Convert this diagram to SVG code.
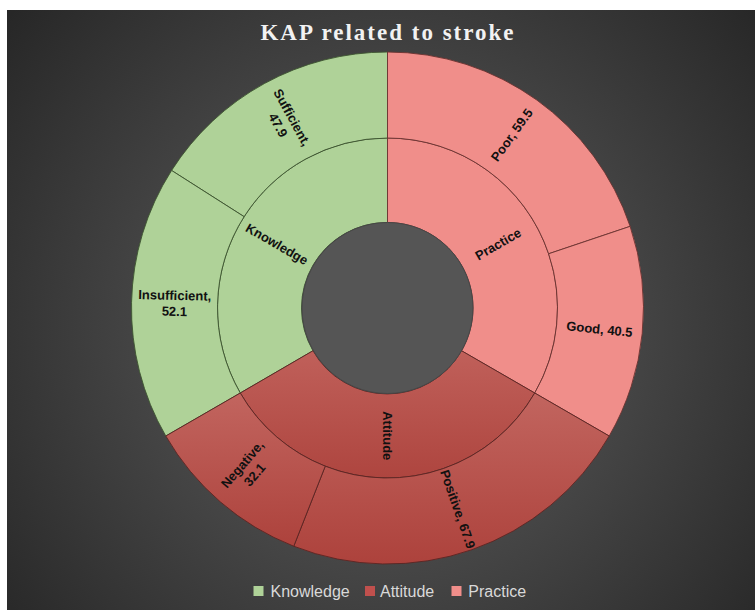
<svg xmlns="http://www.w3.org/2000/svg" width="755" height="610" viewBox="0 0 755 610">
  <defs>
    <radialGradient id="bg" gradientUnits="userSpaceOnUse" cx="387" cy="330" r="500">
      <stop offset="0" stop-color="#5a5a5a"/>
      <stop offset="0.45" stop-color="#474747"/>
      <stop offset="1" stop-color="#262626"/>
    </radialGradient>
    <linearGradient id="att" x1="0" y1="0" x2="0" y2="1">
      <stop offset="0" stop-color="#c2655f"/>
      <stop offset="1" stop-color="#ad423c"/>
    </linearGradient>
    <linearGradient id="attIn" x1="0" y1="0" x2="0" y2="1">
      <stop offset="0" stop-color="#c0605a"/>
      <stop offset="1" stop-color="#ae453f"/>
    </linearGradient>
  </defs>
  <style>
    .k { fill: #afd298; stroke: #3d5530; stroke-width: 0.9; }
    .p { fill: #f08e8a; stroke: #6a3230; stroke-width: 0.9; }
    .a { fill: url(#att); stroke: #5a2522; stroke-width: 0.9; }
    .ai { fill: url(#attIn); stroke: #5a2522; stroke-width: 0.9; }
    .lbl { font-family: "Liberation Sans", Arial, sans-serif; font-weight: bold; font-size: 13px; fill: #111; text-anchor: middle; }
    .leg { font-family: "Liberation Sans", Arial, sans-serif; font-size: 16px; fill: #d9d9d9; }
    .title { font-family: "Liberation Serif", "Times New Roman", serif; font-weight: bold; font-size: 23px; letter-spacing: 2px; fill: #f2f2f2; text-anchor: middle; }
  </style>
  <rect x="0" y="0" width="755" height="610" fill="#ffffff"/>
  <rect x="7" y="10" width="748" height="600" fill="url(#bg)"/>
  <text class="title" x="388" y="40">KAP related to stroke</text>

  <g id="inner-ring">
    <g id="node-knowledge">
      <path class="k" d="M312.955,350.75 L240.276,393 A170,170 0 0 1 387.5,138 L387.5,222.5 A85.5,85.5 0 0 0 312.955,350.75 Z"/>
      <text class="lbl" transform="translate(276.9,244.1) rotate(30)" y="4.5">Knowledge</text>
    </g>
    <g id="node-practice">
      <path class="p" d="M387.5,222.5 L387.5,138 A170,170 0 0 1 534.724,393 L461.545,350.75 A85.5,85.5 0 0 0 387.5,222.5 Z"/>
      <text class="lbl" transform="translate(498.1,244.1) rotate(-30)" y="4.5">Practice</text>
    </g>
    <g id="node-attitude">
      <path class="ai" d="M461.545,350.75 L534.724,393 A170,170 0 0 1 240.276,393 L312.955,350.75 A85.5,85.5 0 0 0 461.545,350.75 Z"/>
      <text class="lbl" transform="translate(387.5,435.75) rotate(90)" y="4.5">Attitude</text>
    </g>
  </g>

  <g id="outer-ring">
    <g id="node-sufficient">
      <path class="k" d="M244.124,216.659 L171.592,170.451 A256,256 0 0 1 387.5,52 L387.5,138 A170,170 0 0 0 244.124,216.659 Z"/>
      <text class="lbl" transform="translate(285.05,121.26) rotate(61.25)"><tspan x="0" y="-3.5">Sufficient,</tspan><tspan x="0" y="12.5">47.9</tspan></text>
    </g>
    <g id="node-insufficient">
      <path class="k" d="M240.276,393 L165.798,436 A256,256 0 0 1 171.592,170.451 L244.124,216.659 A170,170 0 0 0 240.276,393 Z"/>
      <text class="lbl" transform="translate(174.55,303.4) rotate(1.24)"><tspan x="0" y="-3.5">Insufficient,</tspan><tspan x="0" y="12.5">52.1</tspan></text>
    </g>
    <g id="node-poor">
      <path class="p" d="M387.5,138 L387.5,52 A256,256 0 0 1 630.129,226.347 L548.621,253.777 A170,170 0 0 0 387.5,138 Z"/>
      <text class="lbl" transform="translate(511.8,135) rotate(-54.3)" y="4.5">Poor, 59.5</text>
    </g>
    <g id="node-good">
      <path class="p" d="M548.621,253.777 L630.129,226.347 A256,256 0 0 1 609.202,436 L534.724,393 A170,170 0 0 0 548.621,253.777 Z"/>
      <text class="lbl" transform="translate(599.45,329.16) rotate(5.7)" y="4.5">Good, 40.5</text>
    </g>
    <g id="node-positive">
      <path class="a" d="M534.724,393 L609.202,436 A256,256 0 0 1 293.759,546.22 L325.25,466.193 A170,170 0 0 0 534.724,393 Z"/>
      <text class="lbl" transform="translate(457.76,509.08) rotate(70.74)" y="4.5">Positive, 67.9</text>
    </g>
    <g id="node-negative">
      <path class="a" d="M325.25,466.193 L293.759,546.22 A256,256 0 0 1 165.798,436 L240.276,393 A170,170 0 0 0 325.25,466.193 Z"/>
      <text class="lbl" transform="translate(248.49,469.39) rotate(-49.26)"><tspan x="0" y="-3.5">Negative,</tspan><tspan x="0" y="12.5">32.1</tspan></text>
    </g>
  </g>

  <g id="hole">
    <circle cx="387.5" cy="308" r="85.5" fill="#555555" stroke="#474747" stroke-width="1"/>
  </g>

  <g id="connectors"></g>

  <g id="legend">
    <rect x="253.5" y="586" width="10" height="10" fill="#afd298"/>
    <text class="leg" x="270.5" y="597">Knowledge</text>
    <rect x="365" y="586" width="10" height="10" fill="#c0504d"/>
    <text class="leg" x="380" y="597">Attitude</text>
    <rect x="451.5" y="586" width="10" height="10" fill="#f08e8a"/>
    <text class="leg" x="468.3" y="597">Practice</text>
  </g>
</svg>
